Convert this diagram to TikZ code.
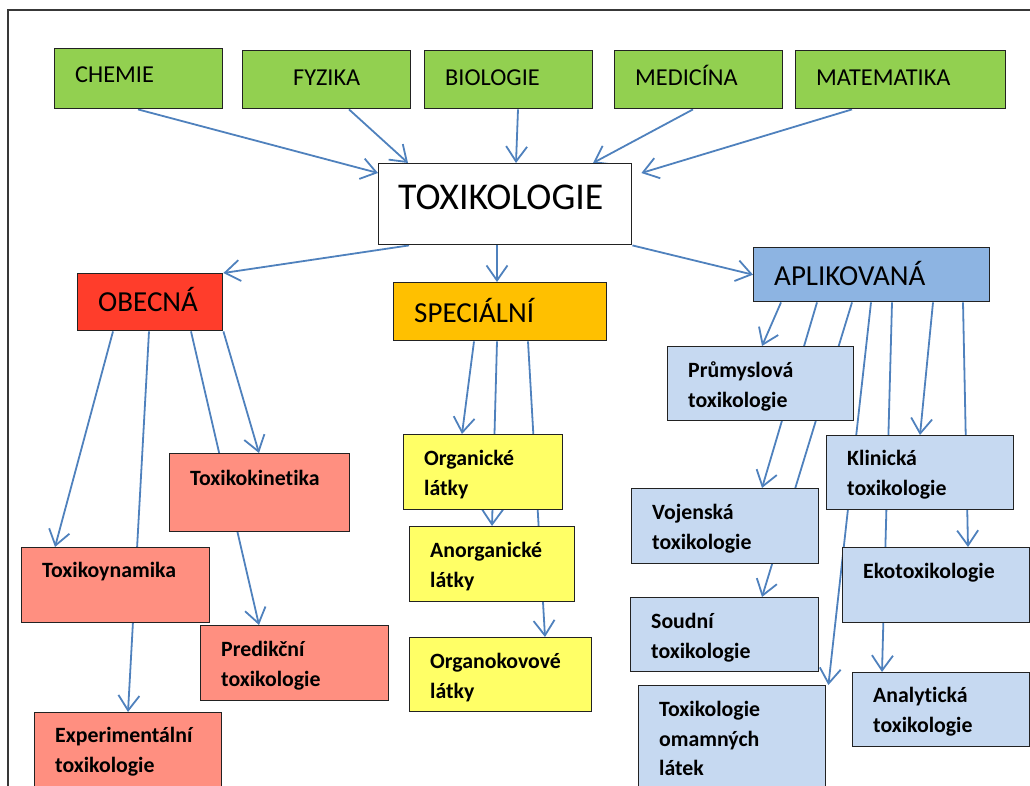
\documentclass[tikz,border=0pt]{standalone}
\usepackage{fontspec}
\setmainfont{Carlito}[Ligatures=CommonOff]
\usetikzlibrary{calc,positioning,arrows.meta,backgrounds}
\definecolor{zelena}{HTML}{92D050}
\definecolor{cervena}{HTML}{FF3D2B}
\definecolor{losos}{HTML}{FF8F80}
\definecolor{oranzova}{HTML}{FFC000}
\definecolor{zluta}{HTML}{FFFF66}
\definecolor{modra}{HTML}{8DB4E2}
\definecolor{svetlemodra}{HTML}{C6D9F1}
\definecolor{linka}{HTML}{4F81BD}
\definecolor{okraj}{HTML}{222222}

\begin{document}
\begin{tikzpicture}[x=1pt, y=-1pt, sipka/.style={draw=linka, line width=1.8pt, -{Straight Barb[length=15pt, width=21pt]}}, cara/.style={draw=linka, line width=1.8pt}]
\tikzstyle{box}=[draw=okraj, line width=1.4pt, anchor=north west, inner xsep=20.5pt, inner ysep=0pt, align=left]
\tikzstyle{velky}=[box, font=\fontsize{24.3}{29}\selectfont]
\tikzstyle{obor}=[box, font=\fontsize{29}{34}\selectfont]
\tikzstyle{maly}=[box, font=\fontsize{21.8}{29.5}\selectfont\bfseries]
\useasboundingbox (0,0) rectangle (1030,785);
\draw[okraj!90, line width=2.2pt] (8,800) -- (8,10) -- (1040,10);
% vedni obory
\node[velky, fill=zelena, text width=127pt, text height=34pt, text depth=26pt] (chemie) at (54,48) {CHEMIE};
\node[velky, fill=zelena, text width=127pt, text height=35pt, text depth=23pt, align=center] (fyzika) at (242,50) {FYZIKA};
\node[velky, fill=zelena, text width=127pt, text height=35pt, text depth=23pt] (biologie) at (424,50) {BIOLOGIE};
\node[velky, fill=zelena, text width=127pt, text height=35pt, text depth=23pt] (medicina) at (614,50) {MEDICÍNA};
\node[velky, fill=zelena, text width=169pt, text height=35pt, text depth=23pt] (matematika) at (795,50) {MATEMATIKA};
\node[box, fill=white, font=\fontsize{37.8}{44}\selectfont, inner xsep=19.5pt, text width=214pt, text height=46pt, text depth=35pt] (toxikologie) at (378,163) {TOXIKOLOGIE};
% hlavni vetve
\node[obor, fill=cervena, text width=104pt, text height=38pt, text depth=19pt] (obecna) at (77,273) {OBECNÁ};
\node[obor, fill=oranzova, text width=172pt, text height=40pt, text depth=18pt] (specialni) at (393,282) {SPECIÁLNÍ};
\node[obor, fill=modra, text width=195pt, text height=38pt, text depth=16pt] (aplikovana) at (753,247) {APLIKOVANÁ};
% obecna
\node[maly, fill=losos, text width=139pt, text height=32pt, text depth=46pt] (kinetika) at (169,453) {Toxikokinetika};
\node[maly, fill=losos, text width=147pt, text height=30pt, text depth=45pt] (dynamika) at (21,547) {Toxikoynamika};
\node[maly, fill=losos, text width=147pt, text height=31pt, text depth=44pt] (predikcni) at (200,625) {Predikční\\toxikologie};
\node[maly, fill=losos, text width=146pt, text height=30pt, text depth=60pt] (experiment) at (34,712) {Experimentální\\toxikologie};
% specialni
\node[maly, fill=zluta, text width=118pt, text height=31pt, text depth=44pt] (organicke) at (403,434) {Organické\\látky};
\node[maly, fill=zluta, text width=124pt, text height=31pt, text depth=44pt] (anorganicke) at (409,526) {Anorganické\\látky};
\node[maly, fill=zluta, text width=141pt, text height=31pt, text depth=43pt] (organokovove) at (409,637) {Organokovové\\látky};
% aplikovana
\node[maly, fill=svetlemodra, text width=145pt, text height=31pt, text depth=43pt] (prumyslova) at (667,346) {Průmyslová\\toxikologie};
\node[maly, fill=svetlemodra, text width=146pt, text height=30pt, text depth=44pt] (klinicka) at (826,435) {Klinická\\toxikologie};
\node[maly, fill=svetlemodra, text width=146pt, text height=31pt, text depth=44pt] (vojenska) at (631,488) {Vojenská\\toxikologie};
\node[maly, fill=svetlemodra, text width=146pt, text height=31pt, text depth=44pt] (ekotox) at (842,547) {Ekotoxikologie};
\node[maly, fill=svetlemodra, text width=147pt, text height=31pt, text depth=43pt] (soudni) at (630,597) {Soudní\\toxikologie};
\node[maly, fill=svetlemodra, text width=146pt, text height=31pt, text depth=84pt] (omamne) at (638,685) {Toxikologie\\omamných\\látek};
\node[maly, fill=svetlemodra, text width=136pt, text height=30pt, text depth=44pt] (analyticka) at (852,672) {Analytická\\toxikologie};
\begin{scope}[on background layer]
\draw[sipka] ($(chemie.south west)+(84,0)$) -- ($(toxikologie.north west)+(0,10)$);
\draw[sipka] ($(fyzika.south west)+(107,0)$) -- ($(toxikologie.north west)+(30,0)$);
\draw[sipka] ($(biologie.south west)+(94,0)$) -- ($(toxikologie.north west)+(138,0)$);
\draw[sipka] ($(medicina.south west)+(79,0)$) -- ($(toxikologie.north west)+(215,0)$);
\draw[sipka] ($(matematika.south west)+(57,0)$) -- ($(toxikologie.north east)+(9,10)$);
\draw[sipka] ($(toxikologie.south west)+(31,0)$) -- (obecna.north east);
\draw[sipka] ($(toxikologie.south west)+(119,0)$) -- ($(specialni.north west)+(104,0)$);
\draw[sipka] (toxikologie.south east) -- (aplikovana.west);
\draw[sipka] ($(obecna.south west)+(36,0)$) -- ($(dynamika.north west)+(34,0)$);
\draw[sipka] ($(obecna.south west)+(72,0)$) -- ($(experiment.north west)+(94,0)$);
\draw[sipka] ($(obecna.south west)+(114,0)$) -- ($(predikcni.north west)+(59,0)$);
\draw[sipka] (obecna.south east) -- ($(kinetika.north west)+(90,0)$);
\draw[sipka] ($(specialni.south west)+(81,0)$) -- ($(organicke.north west)+(59,0)$);
\draw[sipka] ($(specialni.south west)+(104,0)$) -- ($(anorganicke.north west)+(83,0)$);
\draw[sipka] ($(specialni.south west)+(135,0)$) -- ($(organokovove.north west)+(136,0)$);
\draw[sipka] ($(aplikovana.south west)+(28,0)$) -- ($(prumyslova.north west)+(95,0)$);
\draw[sipka] ($(aplikovana.south west)+(64,0)$) -- ($(vojenska.north west)+(131,0)$);
\draw[sipka] ($(aplikovana.south west)+(99,0)$) -- ($(soudni.north west)+(132,0)$);
\draw[sipka] ($(aplikovana.south west)+(118,0)$) -- ($(omamne.north east)+(2,0)$);
\draw[sipka] ($(aplikovana.south west)+(139,0)$) -- ($(analyticka.north west)+(30,0)$);
\draw[sipka] ($(aplikovana.south west)+(180,0)$) -- ($(klinicka.north west)+(94,0)$);
\draw[sipka] ($(aplikovana.south west)+(210,0)$) -- ($(ekotox.north west)+(126,0)$);
\end{scope}
\end{tikzpicture}
\end{document}
